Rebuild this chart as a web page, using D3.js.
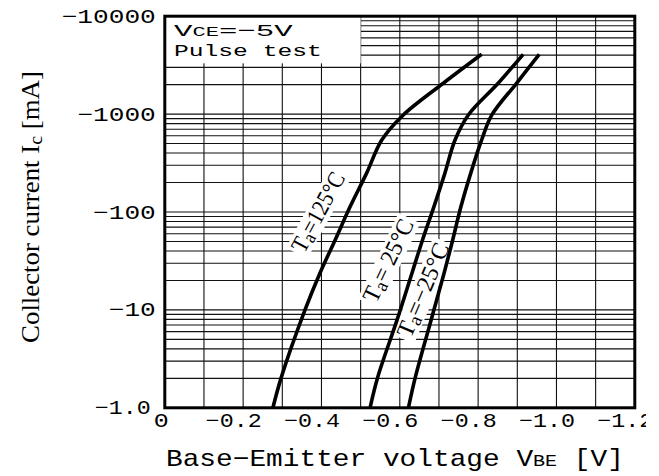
<!DOCTYPE html>
<html><head><meta charset="utf-8">
<script src="https://cdn.jsdelivr.net/npm/d3@7"></script>
<style>html,body{margin:0;padding:0;background:#fff;}svg{display:block;}</style>
</head><body>
<svg id="chart" width="659" height="476"></svg>
<script>
// ---- data ----
const xTicks = [0, 0.2, 0.4, 0.6, 0.8, 1.0, 1.2];
const xTickLabels = ["0", "\u22120.2", "\u22120.4", "\u22120.6", "\u22120.8", "\u22121.0", "\u22121.2"];
const yTicks = [1, 10, 100, 1000, 10000];
const yTickLabels = ["\u22121.0", "\u221210", "\u2212100", "\u22121000", "\u221210000"];

const vbe125 = [0.276, 0.298, 0.358, 0.396, 0.435, 0.473, 0.515, 0.554, 0.609, 0.711, 0.809];
const ic125  = [1, 2.08, 10, 23.7, 51.8, 113, 248, 544, 980, 2065, 4080];
const vbe25  = [0.524, 0.544, 0.593, 0.631, 0.658, 0.687, 0.715, 0.741, 0.775, 0.851, 0.915];
const ic25   = [1, 2.08, 7.9, 23.7, 51.8, 113, 248, 544, 980, 2065, 4080];
const vbeM25 = [0.622, 0.640, 0.680, 0.713, 0.735, 0.756, 0.781, 0.809, 0.835, 0.898, 0.956];
const icM25  = [1, 2.08, 7.9, 23.7, 51.8, 113, 248, 544, 980, 2065, 4080];

const seriesLabels = [["T", "a", "=125\u00b0C"], ["T", "a", "= 25\u00b0C"], ["T", "a", "=\u221225\u00b0C"]];
const labelV = [0.391, 0.570, 0.659];
const labelI = [100, 32, 16];
const labelAngle = [-61.5, -64.5, -67];
const labelLen = [87, 89, 100];

const legendLine1 = ["V", "CE", "=\u22125V"];
const legendLine2 = "Pulse test";
const xTitle = ["Base\u2212Emitter voltage V", "BE", " [V]"];
const yTitle = ["Collector  current  I", "c", " [mA]"];

// ---- layout ----
const svg = d3.select("#chart");
const X0 = 164.8, X1 = 634.8, Y0 = 407.8, Y1 = 16.2;
const x = d3.scaleLinear().domain([0, 1.2]).range([X0, X1]);
const y = d3.scaleLog().domain([1, 10000]).range([Y0, Y1]);
const SERIF = "'Liberation Serif', 'Times New Roman', serif";
const MONO = "'Liberation Mono', 'Courier New', monospace";

// grid
const grid = svg.append("g").attr("stroke", "#111").attr("stroke-width", 1.1);
d3.range(1, 12).forEach(i => {
  grid.append("line").attr("x1", x(i / 10)).attr("x2", x(i / 10)).attr("y1", Y0).attr("y2", Y1);
});
const minorI = [];
[1, 10, 100, 1000].forEach(d => { for (let k = 1; k <= 9; k++) { if (!(d === 1 && k === 1)) minorI.push(d * k); } });
minorI.forEach(v => {
  grid.append("line").attr("x1", X0).attr("x2", X1).attr("y1", y(v)).attr("y2", y(v));
});

// legend white area
svg.append("rect").attr("x", x(0)).attr("y", y(10000)).attr("width", x(0.5) - x(0)).attr("height", y(3300) - y(10000)).attr("fill", "#fff");

function addParts(t, parts, fs, smallIdx, shift, ratio) {
  parts.forEach((p, i) => {
    const ts = t.append("tspan").text(p);
    if (smallIdx.includes(i)) {
      ts.style("font-size", (fs * (ratio || 0.72)) + "px");
      if (shift) ts.attr("dy", shift);
    } else if (i > 0 && smallIdx.includes(i - 1) && shift) {
      ts.attr("dy", -shift);
    }
  });
}
function stretch(t, target) {
  const w = t.node().getBBox().width;
  const ax = +t.attr("x") || 0;
  const k = target / w;
  t.attr("transform", `translate(${ax},0) scale(${k},1) translate(${-ax},0)`);
}

// legend text
const lg1 = svg.append("text").attr("x", 174).attr("y", 36).style("font-family", MONO).style("font-size", "17px");
addParts(lg1, legendLine1, 17, [1], 0, 0.72);
stretch(lg1, 120);
const lg2 = svg.append("text").attr("x", 174).attr("y", 56).style("font-family", MONO).style("font-size", "17px").text(legendLine2);
stretch(lg2, 148);

// curve labels
seriesLabels.forEach((parts, i) => {
  const g = svg.append("g").attr("transform", `translate(${x(labelV[i])},${y(labelI[i])}) rotate(${labelAngle[i]})`);
  const t = g.append("text").attr("text-anchor", "middle").attr("y", 8).style("font-family", SERIF).style("font-size", "24px");
  addParts(t, parts, 24, [1], 3, 0.8);
  const b = t.node().getBBox();
  const k = labelLen[i] / b.width;
  t.attr("transform", `scale(${k},1)`);
  g.insert("rect", "text").attr("x", -b.width * k / 2 - 3).attr("y", b.y + 2).attr("width", b.width * k + 6).attr("height", b.height - 4).attr("fill", "#fff");
});

// curves
const line = d3.line().x(d => x(d[0])).y(d => y(d[1])).curve(d3.curveCatmullRom.alpha(0.5));
[[vbe125, ic125], [vbe25, ic25], [vbeM25, icM25]].forEach(([vs, is]) => {
  svg.append("path").datum(vs.map((v, i) => [v, is[i]])).attr("d", line)
    .attr("fill", "none").attr("stroke", "#000").attr("stroke-width", 3.6).attr("stroke-linecap", "butt");
});

// frame
svg.append("rect").attr("x", X0).attr("y", Y1).attr("width", X1 - X0).attr("height", Y0 - Y1)
  .attr("fill", "none").attr("stroke", "#000").attr("stroke-width", 3);

const widthOf = s => [...s].reduce((a, c) => a + (c === "." ? 9 : 15.7), 0);

// axes
const yAxis = svg.append("g").attr("transform", `translate(${X0},0)`)
  .call(d3.axisLeft(y).tickValues(yTicks).tickFormat((d, i) => yTickLabels[i]).tickSize(0).tickPadding(10));
yAxis.select(".domain").remove();
yAxis.selectAll("text").attr("dy", null).attr("y", 6).attr("x", (d, i) => i === 0 ? -14 : -9)
  .style("font-family", MONO).style("font-size", "20px").attr("fill", "#000")
  .each(function(d, i) { stretch(d3.select(this), widthOf(yTickLabels[i])); });

svg.append("defs").append("clipPath").attr("id", "clipx").append("rect").attr("x", -10).attr("y", -10).attr("width", 656).attr("height", 100);
const xAxis = svg.append("g").attr("transform", `translate(0,${Y0})`).attr("clip-path", "url(#clipx)")
  .call(d3.axisBottom(x).tickValues(xTicks).tickFormat((d, i) => xTickLabels[i]).tickSize(0));
xAxis.select(".domain").remove();
xAxis.selectAll("text").attr("dy", null).attr("y", 19).attr("x", (d, i) => i === 0 ? -4 : -10)
  .style("font-family", MONO).style("font-size", "20px").attr("fill", "#000")
  .each(function(d, i) { stretch(d3.select(this), i === 0 ? 15 : widthOf(xTickLabels[i])); });

// axis titles
const xt = svg.append("text").attr("x", 166).attr("y", 466).style("font-family", MONO).style("font-size", "24px");
addParts(xt, xTitle, 24, [1], 0, 0.72);
stretch(xt, 458);

const ytg = svg.append("g").attr("transform", `translate(39,207) rotate(-90)`);
const yt = ytg.append("text").attr("text-anchor", "middle").style("font-family", SERIF).style("font-size", "26px");
addParts(yt, yTitle, 26, [1], 3, 0.75);
const yw = yt.node().getBBox().width;
yt.attr("transform", `scale(${272 / yw},1)`);
</script>
</body></html>
